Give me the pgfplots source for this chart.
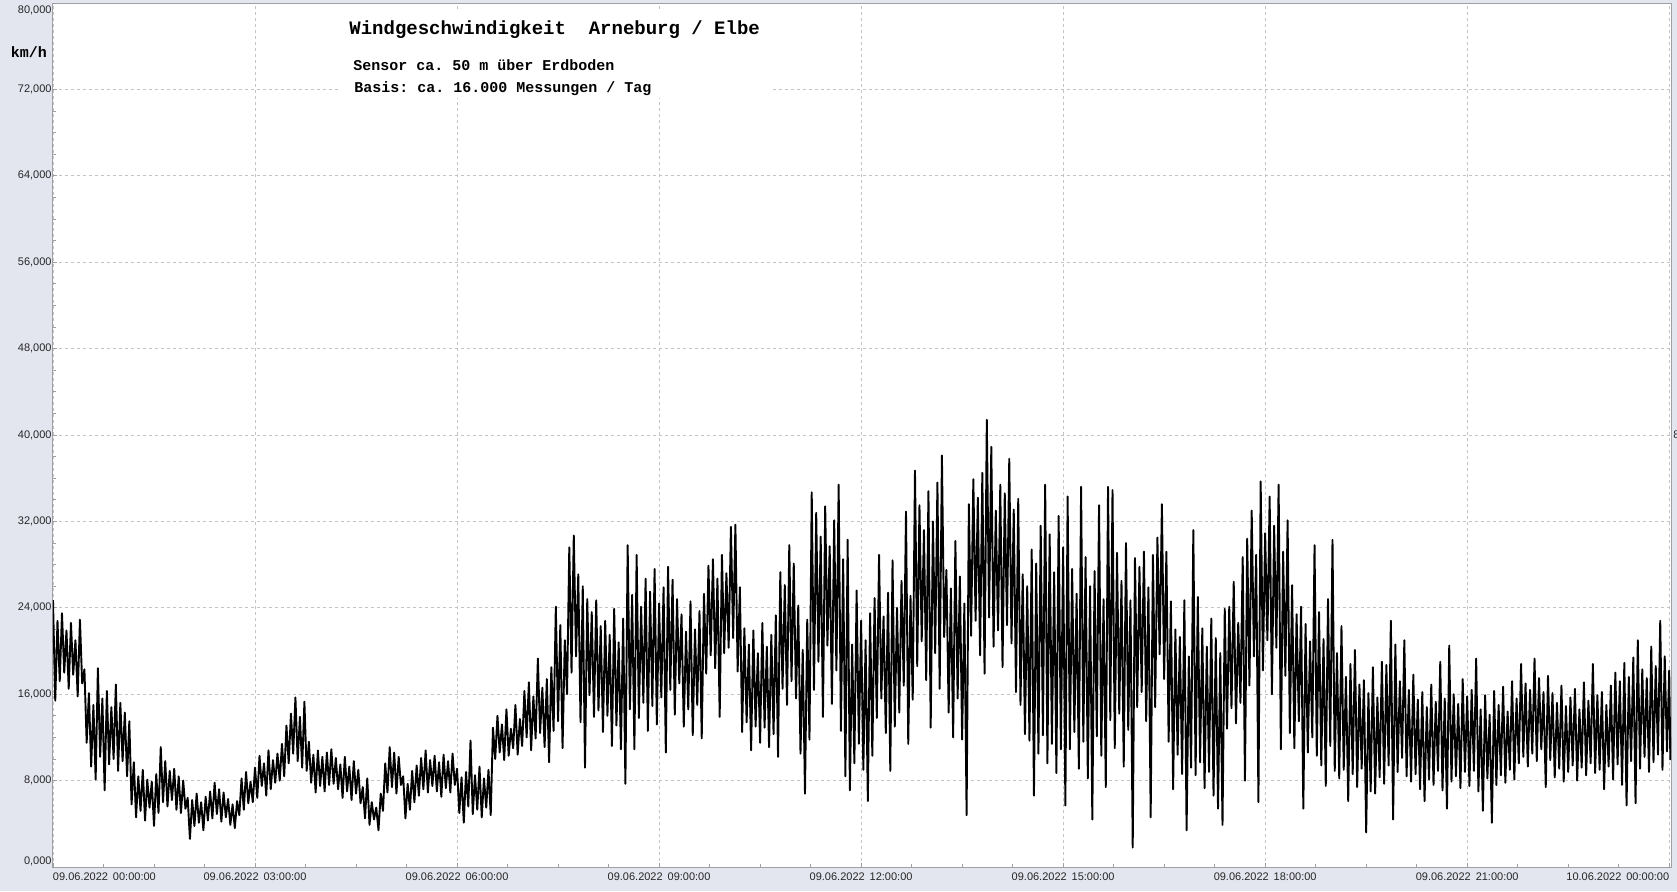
\documentclass[border=0pt]{standalone}
\usepackage{fontspec}
\setmainfont{Liberation Sans}
\setmonofont{Liberation Mono}
\usepackage{pgfplots}
\pgfplotsset{compat=1.18}
\definecolor{bg}{RGB}{227,230,239}
\definecolor{axisgray}{RGB}{158,160,166}
\definecolor{gridgray}{RGB}{195,195,195}
\newcommand{\dlab}[1]{09.06.2022\hspace{0.45em}#1}
\begin{document}
\begin{tikzpicture}[x=1pt,y=1pt]
\fill[bg] (0,0) rectangle (838.5,445.5);
\path[use as bounding box] (0,0) rectangle (838.5,445.5);
\begin{axis}[
  at={(26.5pt,12pt)}, anchor=south west,
  scale only axis, width=809pt, height=432pt,
  xmin=0, xmax=1441.6, ymin=0, ymax=80,
  axis background/.style={fill=white},
  axis line style={axisgray, line width=0.5pt},
  xtick={0,180,...,1440},
  xticklabels={\rlap{\dlab{00:00:00}},\dlab{03:00:00},\dlab{06:00:00},\dlab{09:00:00},\dlab{12:00:00},\dlab{15:00:00},\dlab{18:00:00},\dlab{21:00:00},\llap{10.06.2022\hspace{0.45em}00:00:00}},
  ytick={8,16,...,72},
  yticklabels={{8,000},{16,000},{24,000},{32,000},{40,000},{48,000},{56,000},{64,000},{72,000}},
  minor x tick num=3, minor y tick num=3,
  tick pos=left, tick align=inside,
  major tick length=2pt, minor tick length=1.6pt,
  tick style={axisgray, line width=0.4pt},
  grid=major,
  major grid style={gridgray, dash pattern=on 1.5pt off 1.5pt, line width=0.45pt},
  tick label style={font=\fontsize{5.5}{6}\selectfont, text=black!85},
  xticklabel style={anchor=north, inner sep=0pt, yshift=-2.6pt},
  yticklabel style={anchor=east, inner sep=0pt, xshift=-0.5pt},
]
\addplot[black, line width=0.95pt, line join=round, mark=none] coordinates {
(0,24.7)(2,15.4)(4,22.8)(6,17.2)(8,23.5)(10,18.0)(12,21.9)(14,16.5)(16,22.6)(18,17.8)(20,21.0)(22,15.8)(24,22.9)(26,17.0)
(28,18.3)(30,11.5)(32,16.1)(34,9.3)(36,15.0)(38,8.1)
(40,18.4)(42,10.2)(44,15.6)(46,7.1)(48,16.3)(50,9.5)(52,14.8)(54,10.0)(56,16.9)(58,8.9)(60,15.2)(62,9.8)(64,14.3)(66,8.4)(68,13.5)
(70,5.8)(72,9.7)(74,4.6)(76,8.4)(78,5.2)(80,9.0)(82,4.3)(84,8.1)(86,5.5)(88,7.9)(90,3.8)(92,8.6)(94,5.0)
(96,11.1)(98,6.0)(100,9.8)(102,5.6)(104,8.9)(106,6.2)(108,9.1)(110,5.3)(112,8.4)(114,5.0)(116,8.0)(118,5.4)
(120,6.4)(122,2.6)(124,6.2)(126,3.8)(128,6.8)(130,4.1)(132,6.0)(134,3.4)(136,6.5)(138,4.3)
(140,7.0)(142,4.5)(144,7.8)(146,4.9)(148,7.2)(150,4.2)(152,6.9)(154,4.6)(156,6.3)(158,3.9)(160,5.8)(162,3.6)
(164,6.1)(166,4.8)(168,8.2)(170,5.3)(172,8.8)(174,5.9)(176,7.9)(178,6.0)(180,9.2)
(182,6.4)(184,10.3)(186,7.5)(188,9.6)(190,6.6)(192,10.8)(194,7.2)(196,9.9)(198,7.8)(200,10.5)(202,8.0)(204,11.4)
(206,8.4)(208,13.1)(210,9.6)(212,14.2)(214,10.5)(216,15.7)(218,9.8)(220,13.9)(222,9.2)(224,15.3)(226,8.9)
(228,11.6)(230,7.8)(232,10.4)(234,6.9)(236,10.8)(238,7.5)(240,10.2)(242,7.0)(244,10.6)(246,7.6)
(248,10.9)(250,7.7)(252,10.1)(254,7.2)(256,9.5)(258,6.4)(260,10.2)(262,7.0)(264,9.3)(266,6.2)(268,9.8)(270,6.8)(272,9.0)(274,5.9)
(276,7.4)(278,4.5)(280,8.2)(282,3.9)(284,6.0)(286,4.4)(288,5.5)(290,3.4)(292,6.8)
(294,5.2)(296,9.6)(298,6.9)(300,11.1)(302,7.4)(304,10.6)(306,6.8)(308,10.2)(310,7.6)
(312,8.4)(314,4.5)(316,7.7)(318,5.3)(320,8.9)(322,6.0)(324,9.4)
(326,6.6)(328,10.1)(330,7.2)(332,10.8)(334,6.9)(336,9.9)(338,7.5)(340,10.3)(342,7.0)(344,9.7)(346,6.5)(348,10.4)(350,7.3)(352,9.8)(354,6.9)(356,10.5)(358,7.6)(360,9.1)
(362,5.0)(364,8.3)(366,4.1)(368,8.8)(370,5.6)(372,11.7)(374,4.9)(376,8.5)(378,5.3)(380,9.3)(382,4.6)(384,8.2)(386,5.5)(388,9.0)(390,4.8)
(392,12.9)(394,10.0)(396,14.0)(398,10.6)(400,13.2)(402,9.9)(404,14.6)(406,10.3)(408,12.8)(410,11.0)(412,15.0)(414,10.4)(416,13.7)
(418,11.2)(420,16.3)(422,12.0)(424,17.1)(426,10.8)(428,15.8)(430,11.9)(432,19.3)(434,12.4)(436,16.6)(438,11.1)(440,17.4)(442,9.7)(444,18.5)
(446,12.6)(448,24.1)(450,13.5)(452,22.4)(454,11.0)(456,21.0)
(458,16.0)(460,29.6)(462,18.0)(464,30.7)(466,19.5)(468,27.1)(470,13.4)(472,26.0)(474,9.2)(476,24.8)
(478,15.9)(480,23.6)(482,13.9)(484,24.7)(486,14.5)
(488,22.3)(490,12.5)(492,22.8)(494,14.0)(496,21.5)(498,11.2)(500,23.9)(502,13.1)(504,20.8)(506,10.9)(508,23.0)(510,7.7)
(512,29.8)(514,14.6)(516,25.2)(518,10.9)(520,28.9)(522,13.8)(524,24.1)(526,15.2)(528,26.7)(530,12.6)(532,25.5)(534,14.9)(536,27.6)(538,13.2)
(540,24.4)(542,15.7)(544,25.9)(546,10.6)(548,27.8)(550,16.4)(552,26.6)(554,14.1)(556,24.8)(558,17.0)
(560,23.4)(562,13.0)(564,21.8)(566,14.6)(568,24.6)(570,12.2)(572,22.0)(574,15.0)(576,23.7)(578,11.9)(580,25.3)
(582,17.9)(584,27.9)(586,19.6)(588,28.5)(590,18.4)(592,26.7)(594,13.9)(596,28.9)(598,19.8)(600,27.2)(602,20.3)(604,31.5)(606,21.2)(608,31.7)
(610,18.1)(612,25.9)(614,12.5)(616,22.1)(618,13.4)(620,20.6)(622,10.8)(624,21.9)(626,13.0)(628,19.8)(630,11.5)(632,22.6)(634,12.9)(636,20.4)(638,11.1)(640,21.5)(642,12.3)(644,23.3)(646,10.2)
(648,27.3)(650,16.5)(652,26.1)(654,15.0)(656,29.8)(658,17.2)(660,28.1)(662,15.6)
(664,24.2)(666,10.5)(668,20.1)(670,6.8)(672,22.9)(674,11.8)
(676,34.7)(678,16.4)(680,32.8)(682,19.0)(684,30.6)(686,13.9)(688,33.4)(690,20.5)(692,29.7)(694,15.1)(696,32.1)(698,18.2)(700,35.4)(702,12.6)
(704,28.5)(706,8.4)(708,30.3)(710,7.1)(712,20.6)
(714,9.6)(716,25.6)(718,11.4)(720,22.8)(722,9.0)(724,21.0)(726,6.1)(728,23.5)
(730,10.3)(732,24.9)(734,13.8)(736,28.9)(738,15.6)(740,23.2)(742,12.4)(744,25.4)(746,8.9)(748,28.4)(750,13.0)(752,24.0)(754,14.3)(756,26.5)(758,16.8)(760,32.9)(762,11.4)(764,25.1)(766,15.5)
(768,36.7)(770,18.6)(772,33.5)(774,20.9)(776,31.2)(778,17.3)(780,34.8)(782,12.9)(784,32.0)(786,19.8)(788,35.6)(790,16.5)(792,38.1)
(794,21.3)(796,27.5)(798,14.3)(800,25.8)(802,12.0)(804,30.2)(806,15.6)(808,26.9)(810,11.8)(812,24.4)(814,4.8)
(816,33.6)(818,21.4)(820,35.9)(822,22.8)(824,34.2)(826,19.6)(828,36.5)(830,17.9)(832,41.4)(834,23.1)(836,38.9)(838,20.4)(840,33.0)(842,21.9)(844,35.4)(846,18.5)(848,34.6)(850,22.4)(852,37.8)(854,20.7)(856,33.1)
(858,16.2)(860,34.1)(862,15.0)(864,27.1)(866,12.3)(868,26.0)
(870,11.7)(872,29.4)(874,6.6)(876,28.1)(878,10.5)(880,31.6)(882,12.2)(884,35.4)(886,9.6)(888,30.8)(890,11.4)(892,27.3)(894,8.7)(896,32.5)(898,10.9)(900,29.6)
(902,5.7)(904,34.3)(906,10.9)(908,27.6)(910,12.5)(912,25.3)(914,9.1)(916,35.2)(918,11.6)(920,28.7)(922,8.2)(924,26.0)(926,4.4)
(928,27.4)(930,12.1)(932,33.5)(934,10.3)(936,24.8)(938,7.4)(940,35.2)(942,13.6)(944,34.9)(946,11.0)(948,29.1)(950,14.2)(952,26.5)(954,9.3)(956,30.0)(958,12.7)(960,24.7)(962,1.8)(964,28.6)(966,14.8)(968,27.8)
(970,16.2)(972,29.2)(974,13.5)(976,25.9)(978,4.6)
(980,28.9)(982,14.8)(984,30.5)(986,19.7)(988,33.6)(990,17.4)
(992,29.2)(994,11.6)(996,24.6)(998,7.2)(1000,22.0)(1002,10.4)(1004,21.3)(1006,8.6)(1008,24.7)(1010,3.4)(1012,19.5)(1014,9.2)
(1016,31.2)
(1018,8.5)(1020,25.0)(1022,9.7)(1024,22.1)(1026,7.3)(1028,20.4)(1030,8.8)(1032,23.0)(1034,6.6)(1036,21.2)(1038,5.4)(1040,19.8)(1042,3.9)
(1044,23.9)(1046,12.8)(1048,24.1)(1050,14.7)(1052,26.4)(1054,13.3)(1056,22.6)(1058,15.2)(1060,28.7)(1062,8.0)
(1064,30.4)(1066,16.8)(1068,33.0)(1070,19.5)(1072,28.9)(1074,6.0)(1076,35.7)(1078,18.2)(1080,30.9)(1082,21.0)(1084,34.3)(1086,16.0)(1088,31.6)(1090,20.3)(1092,35.4)(1094,10.9)(1096,29.2)(1098,17.7)(1100,32.1)
(1102,12.4)(1104,26.1)(1106,11.0)(1108,23.4)(1110,13.5)(1112,24.1)(1114,5.4)(1116,22.5)(1118,10.6)(1120,20.9)(1122,12.0)(1124,29.8)(1126,10.3)(1128,23.6)(1130,9.4)(1132,21.1)(1134,7.5)(1136,24.8)(1138,11.2)(1140,30.3)(1142,8.9)(1144,19.8)
(1146,8.2)(1148,22.3)(1150,9.0)(1152,17.6)(1154,6.1)(1156,18.8)(1158,8.6)(1160,20.1)(1162,7.4)(1164,16.9)(1166,9.1)(1168,17.3)(1170,3.2)(1172,16.1)(1174,7.0)(1176,18.5)(1178,6.8)(1180,15.7)(1182,8.3)(1184,19.0)(1186,7.7)
(1188,18.7)(1190,9.4)(1192,22.8)(1194,4.4)(1196,20.6)(1198,8.8)(1200,17.2)(1202,10.1)(1204,21.0)(1206,8.4)(1208,16.4)
(1210,7.9)(1212,17.8)(1214,8.6)(1216,15.5)(1218,7.2)(1220,16.2)(1222,6.1)(1224,14.8)(1226,8.1)(1228,16.9)(1230,7.6)(1232,15.3)(1234,8.9)(1236,19.0)(1238,7.1)(1240,15.6)(1242,5.4)(1244,20.5)(1246,7.9)(1248,16.0)(1250,8.4)(1252,15.1)(1254,7.3)(1256,17.4)(1258,8.8)
(1260,15.8)(1262,7.5)(1264,16.4)(1266,8.9)(1268,19.3)(1270,7.0)(1272,14.6)(1274,5.2)(1276,15.9)(1278,8.2)(1280,14.1)(1282,4.1)(1284,16.3)(1286,7.6)(1288,15.0)(1290,8.5)(1292,16.7)(1294,7.8)(1296,14.4)(1298,9.0)(1300,17.2)(1302,8.1)(1304,15.6)
(1306,9.6)(1308,18.8)(1310,10.2)(1312,17.0)(1314,9.3)(1316,16.4)(1318,10.5)(1320,19.3)(1322,9.8)(1324,17.5)(1326,10.9)(1328,16.2)(1330,7.4)(1332,17.7)(1334,9.9)
(1336,16.1)(1338,8.3)(1340,15.2)(1342,9.1)(1344,16.8)(1346,7.9)(1348,14.9)(1350,8.8)(1352,15.7)(1354,9.4)(1356,16.5)(1358,8.0)(1360,14.6)(1362,9.2)(1364,17.1)(1366,8.5)(1368,15.4)(1370,9.6)(1372,18.8)(1374,8.7)(1376,15.9)(1378,9.0)(1380,16.2)(1382,7.2)(1384,15.0)
(1386,9.3)(1388,16.8)(1390,8.1)(1392,18.0)(1394,9.5)(1396,17.2)(1398,7.6)(1400,18.9)(1402,5.7)(1404,17.6)(1406,9.8)(1408,19.4)(1410,5.9)(1412,21.0)(1414,9.1)(1416,18.3)(1418,10.2)(1420,17.5)(1422,8.8)(1424,20.4)(1426,9.7)(1428,18.6)(1430,10.4)(1432,22.8)(1434,9.0)(1436,19.5)(1438,10.7)(1440,18.2)(1441,9.9)
};
\end{axis}
\node[anchor=east, inner sep=0pt, font=\fontsize{5.5}{6}\selectfont, text=black!85] at (26,440.25) {80,000};
\node[anchor=east, inner sep=0pt, font=\fontsize{5.5}{6}\selectfont, text=black!85] at (26,15) {0,000};
\fill[white] (169,396.5) rectangle (386.5,440.5);
\node[anchor=base west, inner sep=0pt, font=\ttfamily\bfseries\fontsize{9.5}{11}\selectfont] at (174.5,428) {Windgeschwindigkeit\ \ Arneburg / Elbe};
\node[anchor=base west, inner sep=0pt, font=\ttfamily\bfseries\fontsize{7.5}{9}\selectfont] at (176.5,410) {Sensor ca. 50 m über Erdboden};
\node[anchor=base west, inner sep=0pt, font=\ttfamily\bfseries\fontsize{7.5}{9}\selectfont] at (177,399) {Basis: ca. 16.000 Messungen / Tag};
\node[inner sep=0pt, font=\ttfamily\bfseries\fontsize{7.5}{9}\selectfont] at (14.5,419.5) {km/h};
\node[anchor=west, inner sep=0pt, font=\fontsize{5.5}{6}\selectfont, text=black!85] at (836.5,228) {8};
\end{tikzpicture}
\end{document}
